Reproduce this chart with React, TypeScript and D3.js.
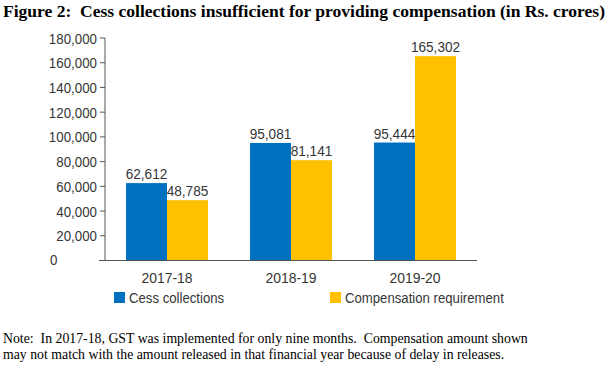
import React from "react";
import * as d3 from "d3";

const categories = ["2017-18", "2018-19", "2019-20"];
const seriesNames = ["Cess collections", "Compensation requirement"];
const cessCollections = [62612, 95081, 95444];
const compensationRequirement = [48785, 81141, 165302];
const yTicks = [0, 20000, 40000, 60000, 80000, 100000, 120000, 140000, 160000, 180000];
const colors = ["#0070C0", "#FFC000"];

const W = 610, H = 366;
const left = 105, right = 477, top = 38, bottom = 260.5;
const FONT = "'Liberation Sans', Arial, sans-serif";
const SERIF = "'Liberation Serif', 'Times New Roman', serif";
const TXT = "#363636";

function NText({ x, y, sx, anchor = "start", size = 15, children }: any) {
  return (
    <text
      transform={`translate(${x},${y}) scale(${sx},1)`}
      textAnchor={anchor}
      fontFamily={FONT}
      fontSize={size}
      fill={TXT}
    >
      {children}
    </text>
  );
}

export default function App() {
  const x = d3.scaleBand<string>().domain(categories).range([left, right]).padding(0);
  const inner = d3.scaleBand<number>().domain([0, 1]).range([0, x.bandwidth()]).paddingInner(0).paddingOuter(0.512);
  const y = d3.scaleLinear().domain([0, 180000]).range([bottom, top]);
  const fmt = d3.format(",");
  const series = [cessCollections, compensationRequirement];

  return (
    <svg width={W} height={H} style={{ position: "absolute", left: 0, top: 0, background: "#fff" }}>
      <text x={3} y={17} fontFamily={SERIF} fontWeight="bold" fontSize={16.5} fill="#000" textLength={602} lengthAdjust="spacingAndGlyphs" style={{ whiteSpace: "pre" }}>
        {"Figure 2:  Cess collections insufficient for providing compensation (in Rs. crores)"}
      </text>
      {/* y axis */}
      <line x1={left} x2={left} y1={top} y2={bottom} stroke="#555" strokeWidth={1} />
      {yTicks.map((t) => (
        <g key={t}>
          {t !== 0 && <line x1={left - 5} x2={left} y1={y(t)} y2={y(t)} stroke="#555" strokeWidth={1} />}
          {t === 0 ? (
            <NText x={50} y={y(t) + 4} sx={0.86} anchor="start" size={15.5}>
              {fmt(t)}
            </NText>
          ) : (
            <NText x={left - 8} y={y(t) + 5.5} sx={0.86} anchor="end" size={15.5}>
              {fmt(t)}
            </NText>
          )}
        </g>
      ))}
      {/* bars */}
      {categories.map((c, i) => (
        <g key={c}>
          {series.map((s, j) => {
            const bx = (x(c) as number) + (inner(j) as number);
            return (
              <g key={j}>
                <rect x={bx} y={y(s[i])} width={inner.bandwidth()} height={bottom - y(s[i])} fill={colors[j]} />
                <NText x={bx + inner.bandwidth() / 2} y={y(s[i]) - 4} sx={0.88} anchor="middle" size={15.5}>
                  {fmt(s[i])}
                </NText>
              </g>
            );
          })}
          <NText x={(x(c) as number) + x.bandwidth() / 2} y={283} sx={0.9} anchor="middle" size={15.5}>
            {c}
          </NText>
        </g>
      ))}
      <line x1={left - 6} x2={right} y1={bottom} y2={bottom} stroke="#555" strokeWidth={1} />
      {/* legend */}
      {seriesNames.map((n, j) => {
        const lx = j === 0 ? 114 : 330;
        return (
          <g key={n}>
            <rect x={lx} y={292} width={11} height={11} fill={colors[j]} />
            <NText x={lx + 15} y={303} sx={0.85} size={15.5}>
              {n}
            </NText>
          </g>
        );
      })}
      {/* note */}
      <text x={3} y={343} fontFamily={SERIF} fontSize={13.8} fill="#000" style={{ whiteSpace: "pre" }}>
        {"Note:  In 2017-18, GST was implemented for only nine months.  Compensation amount shown"}
      </text>
      <text x={3} y={359} fontFamily={SERIF} fontSize={13.8} fill="#000" style={{ whiteSpace: "pre" }}>
        {"may not match with the amount released in that financial year because of delay in releases."}
      </text>
    </svg>
  );
}
